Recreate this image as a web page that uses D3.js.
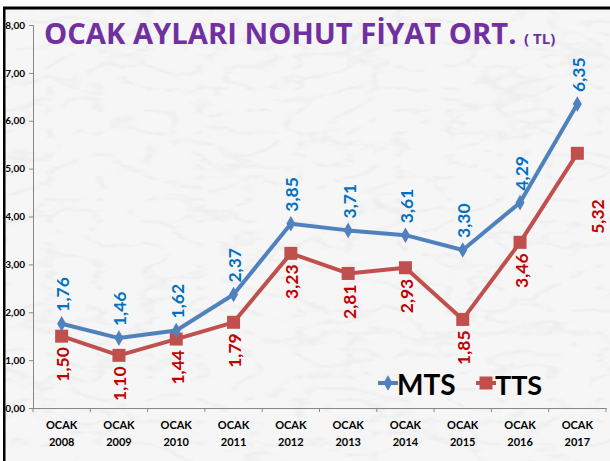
<!DOCTYPE html>
<html>
<head>
<meta charset="utf-8">
<script src="https://cdn.jsdelivr.net/npm/d3@7"></script>
<style>
  html, body { margin: 0; padding: 0; background: #fff; }
  svg { display: block; }
</style>
</head>
<body>
<div id="chart"></div>
<script>
// data
const years = ["2008", "2009", "2010", "2011", "2012", "2013", "2014", "2015", "2016", "2017"];
const mts = [1.76, 1.46, 1.62, 2.37, 3.85, 3.71, 3.61, 3.30, 4.29, 6.35];
const tts = [1.50, 1.10, 1.44, 1.79, 3.23, 2.81, 2.93, 1.85, 3.46, 5.32];
const yTicks = [0, 1, 2, 3, 4, 5, 6, 7, 8];

const width = 610, height = 461;
const font = "Lato, 'Open Sans', sans-serif";

// chart area
const x0 = 33, x1 = 606, yTop = 25, yBottom = 408;

const svg = d3.select("#chart").append("svg")
  .attr("width", width)
  .attr("height", height);

// marble-ish background
const defs = svg.append("defs");
const filt = defs.append("filter").attr("id", "marble")
  .attr("x", 0).attr("y", 0).attr("width", "100%").attr("height", "100%");
filt.append("feTurbulence")
  .attr("type", "turbulence")
  .attr("baseFrequency", "0.02 0.045")
  .attr("numOctaves", 3)
  .attr("seed", 11)
  .attr("result", "noise");
filt.append("feColorMatrix")
  .attr("in", "noise")
  .attr("type", "matrix")
  .attr("values", "0 0 0 0 0.6  0 0 0 0 0.6  0 0 0 0 0.6  -1.5 0 0 0 0.35")
  .attr("result", "veins");
filt.append("feComposite").attr("in", "veins").attr("in2", "SourceGraphic").attr("operator", "in");

svg.append("rect")
  .attr("x", 4).attr("y", 8)
  .attr("width", width - 4).attr("height", height - 8)
  .attr("fill", "#f6f6f6");
svg.append("rect")
  .attr("x", 4).attr("y", 8)
  .attr("width", width - 4).attr("height", height - 8)
  .attr("fill", "#f6f6f6")
  .attr("opacity", 0.6)
  .attr("filter", "url(#marble)");

// scales
const x = d3.scaleBand()
  .domain(years)
  .range([x0, x1]);

const y = d3.scaleLinear()
  .domain([0, 8])
  .range([yBottom, yTop]);

// y axis
const yAxis = d3.axisLeft(y)
  .tickValues(yTicks)
  .tickSize(4)
  .tickFormat(d => d3.format(".2f")(d).replace(".", ","));

const gy = svg.append("g")
  .attr("transform", "translate(" + x0 + ",0)")
  .call(yAxis);
gy.select(".domain").attr("stroke", "#888").attr("stroke-width", 1);
gy.selectAll(".tick line").attr("stroke", "#888");
gy.selectAll(".tick text")
  .attr("x", -8)
  .style("font-family", font)
  .style("font-weight", "bold")
  .style("font-size", "10px")
  .attr("fill", "#000");

// x axis
const xAxis = d3.axisBottom(x)
  .tickSize(0)
  .tickFormat("");
const gx = svg.append("g")
  .attr("transform", "translate(0," + yBottom + ")")
  .call(xAxis);
gx.select(".domain").attr("stroke", "#888").attr("stroke-width", 1);

// boundary ticks
gx.selectAll(".bound")
  .data(years.concat(["end"]))
  .enter().append("line")
  .attr("x1", (d, i) => x0 + i * x.step())
  .attr("x2", (d, i) => x0 + i * x.step())
  .attr("y1", 0).attr("y2", 4)
  .attr("stroke", "#888");

const catLabels = svg.append("g");
years.forEach(yr => {
  const t = catLabels.append("text")
    .attr("x", x(yr) + x.bandwidth() / 2)
    .attr("text-anchor", "middle")
    .style("font-family", font)
    .style("font-weight", "bold")
    .style("font-size", "11px")
    .attr("fill", "#000");
  t.append("tspan").attr("x", x(yr) + x.bandwidth() / 2).attr("y", 429).text("OCAK");
  t.append("tspan").attr("x", x(yr) + x.bandwidth() / 2).attr("y", 446).text(yr);
});

const cx = (d, i) => x(years[i]) + x.bandwidth() / 2;
const line = d3.line()
  .x((d, i) => cx(d, i))
  .y(d => y(d));

// TTS series
svg.append("path")
  .datum(tts)
  .attr("d", line)
  .attr("fill", "none")
  .attr("stroke", "#C0504D")
  .attr("stroke-width", 4)
  .attr("stroke-linejoin", "round");
svg.selectAll(".sq")
  .data(tts)
  .enter().append("rect")
  .attr("x", (d, i) => cx(d, i) - 6.5)
  .attr("y", d => y(d) - 6.5)
  .attr("width", 13).attr("height", 13)
  .attr("fill", "#C0504D");

// MTS series
svg.append("path")
  .datum(mts)
  .attr("d", line)
  .attr("fill", "none")
  .attr("stroke", "#4F81BD")
  .attr("stroke-width", 4)
  .attr("stroke-linejoin", "round");
svg.selectAll(".dm")
  .data(mts)
  .enter().append("path")
  .attr("d", d3.symbol(d3.symbolDiamond, 70))
  .attr("transform", (d, i) => "translate(" + cx(d, i) + "," + y(d) + ")")
  .attr("fill", "#4F81BD");

const fmt = d => d3.format(".2f")(d).replace(".", ",");

// value labels, rotated
svg.selectAll(".lblM")
  .data(mts)
  .enter().append("text")
  .attr("transform", (d, i) => "translate(" + (cx(d, i) + 1) + "," + (y(d) - 12) + ") rotate(-90)")
  .attr("text-anchor", "start")
  .attr("dominant-baseline", "central")
  .style("font-family", font)
  .style("font-weight", "bold")
  .style("font-size", "17.5px")
  .attr("fill", "#0070C0")
  .text(fmt);

// label nudges for the last TTS point (moved by hand in the original)
const nudge = { 9: [19, 35] };
svg.selectAll(".lblT")
  .data(tts)
  .enter().append("text")
  .attr("transform", (d, i) => {
    const n = nudge[i] || [0, 0];
    return "translate(" + (cx(d, i) + 1 + n[0]) + "," + (y(d) + 11 + n[1]) + ") rotate(-90)";
  })
  .attr("text-anchor", "end")
  .attr("dominant-baseline", "central")
  .style("font-family", font)
  .style("font-weight", "bold")
  .style("font-size", "17.5px")
  .attr("fill", "#C00000")
  .text(fmt);

// legend
const lg = svg.append("g").attr("transform", "translate(378,383)");
lg.append("line").attr("x1", 0).attr("x2", 20).attr("y1", 0).attr("y2", 0)
  .attr("stroke", "#4F81BD").attr("stroke-width", 4);
lg.append("path").attr("d", d3.symbol(d3.symbolDiamond, 70))
  .attr("transform", "translate(10,0)").attr("fill", "#4F81BD");
lg.append("text").attr("x", 19).attr("y", 1)
  .attr("dominant-baseline", "central")
  .style("font-family", font).style("font-weight", "bold").style("font-size", "28px")
  .attr("fill", "#000").text("MTS");
lg.append("line").attr("x1", 98).attr("x2", 118).attr("y1", 0).attr("y2", 0)
  .attr("stroke", "#C0504D").attr("stroke-width", 4);
lg.append("rect").attr("x", 101.5).attr("y", -6.5).attr("width", 13).attr("height", 13)
  .attr("fill", "#C0504D");
lg.append("text").attr("x", 117).attr("y", 1)
  .attr("dominant-baseline", "central")
  .style("font-family", font).style("font-weight", "bold").style("font-size", "27px")
  .attr("fill", "#000").text("TTS");

// title
const title = svg.append("text")
  .attr("x", 44).attr("y", 44)
  .style("font-family", "'Open Sans', sans-serif")
  .style("font-weight", "bold")
  .attr("fill", "#7030A0");
title.append("tspan").style("font-size", "29.2px").text("OCAK AYLARI NOHUT FİYAT ORT. ");
title.append("tspan").style("font-size", "15px").text("( TL)");

// frame edges
svg.append("line").attr("x1", 0).attr("x2", width).attr("y1", 8).attr("y2", 8)
  .attr("stroke", "#000").attr("stroke-width", 3);
svg.append("line").attr("x1", 4).attr("x2", 4).attr("y1", 7).attr("y2", height)
  .attr("stroke", "#000").attr("stroke-width", 3);
svg.append("rect").attr("x", 0).attr("y", 0).attr("width", 3).attr("height", height).attr("fill", "#fff");
</script>
</body>
</html>
